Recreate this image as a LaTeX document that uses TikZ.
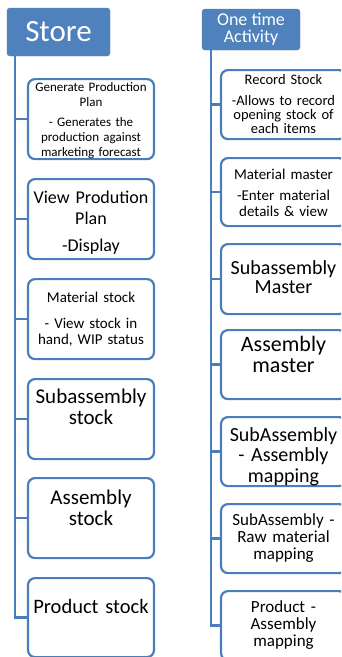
\documentclass[tikz,border=0pt]{standalone}
\usepackage{fontspec}
\setmainfont{Carlito}

\definecolor{hdblue}{HTML}{4F81BD}
\definecolor{lnblue}{HTML}{4A7EBB}

\newcommand{\fsz}[2]{\fontsize{#1}{#2}\selectfont}

\tikzset{
    head/.style={fill=hdblue, draw=hdblue, rounded corners=3pt, text=white, align=center, inner sep=0pt},
    item/.style={draw=lnblue, line width=2.2pt, rounded corners=7pt, anchor=north, align=center, inner xsep=2pt, inner ysep=0pt},
    leftitem/.style={item, text width=122pt},
    rightitem/.style={item, text width=121pt},
    % first baseline below the top edge, rest of the box below it
    rows/.style 2 args={text height=#1pt, text depth=#2pt},
    link/.style={draw=lnblue, line width=2.4pt}
}

\begin{document}
\begin{tikzpicture}[x=1pt, y=-1pt]
    \useasboundingbox (0,0) rectangle (341,657);
    \clip (0,0) rectangle (341,657);

    % headers
    \node[head, minimum width=103pt, minimum height=48pt, font=\fsz{31}{33}] (store) at (58.5,32) {Store};
    \node[head, minimum width=98pt, minimum height=41pt, font=\fsz{18}{17}] (once) at (251,29.5) {One time\\Activity};

    % store column
    \node[leftitem, rows={12}{68}, font=\fsz{13}{15}] (gen) at (91,78)
        {Generate Production\\Plan\\[5pt]- Generates the\\production against\\marketing forecast};
    \node[leftitem, rows={24.5}{55.5}, font=\fsz{18}{21}] (view) at (91,178)
        {View Prodution\\Plan\\[6pt]-Display};
    \node[leftitem, rows={23.5}{56.5}, font=\fsz{15}{16}] (mat) at (91,278)
        {Material stock\\[10pt]- View stock in\\hand, WIP status};
    \node[leftitem, rows={24}{56}, font=\fsz{21}{21}] (sub) at (91,378)
        {Subassembly\\stock};
    \node[leftitem, rows={26}{54}, font=\fsz{21}{21}] (asm) at (91,477)
        {Assembly\\stock};
    \node[leftitem, rows={35}{44}, font=\fsz{20.5}{21}] (prod) at (91,577)
        {Product stock};

    % one time activity column
    \node[rightitem, rows={14.5}{54.5}, font=\fsz{14.5}{14}] (rec) at (283.5,69)
        {Record Stock\\[7pt]-Allows to record\\opening stock of\\each items};
    \node[rightitem, rows={21.5}{46.5}, font=\fsz{15}{16}] (mmaster) at (283.5,157)
        {Material master\\[5pt]-Enter material\\details \& view};
    \node[rightitem, rows={30}{40}, font=\fsz{20}{19}] (smaster) at (283.5,243)
        {Subassembly\\Master};
    \node[rightitem, rows={21}{48}, font=\fsz{22}{21.5}] (amaster) at (283.5,329)
        {Assembly\\master};
    \node[rightitem, rows={24}{45}, font=\fsz{20}{20.5}] (samap) at (283.5,416)
        {SubAssembly\\- Assembly\\mapping};
    \node[rightitem, rows={21}{48}, font=\fsz{17}{17}] (srmap) at (283.5,503)
        {SubAssembly -\\Raw material\\mapping};
    \node[rightitem, rows={21}{48}, font=\fsz{17}{17}] (pamap) at (283.5,590)
        {Product -\\Assembly\\mapping};

    % trunks and branches
    \coordinate (lt) at ([xshift=8pt]store.south west);
    \draw[link] (lt) -- (lt |- prod.west) -- (prod.west);
    \foreach \n in {gen,view,mat,sub,asm}
        \draw[link] (lt |- \n.west) -- (\n.west);

    \coordinate (rt) at ([xshift=9pt]once.south west);
    \draw[link] (rt) -- (rt |- pamap.west) -- (pamap.west);
    \foreach \n in {rec,mmaster,smaster,amaster,samap,srmap}
        \draw[link] (rt |- \n.west) -- (\n.west);
\end{tikzpicture}
\end{document}
